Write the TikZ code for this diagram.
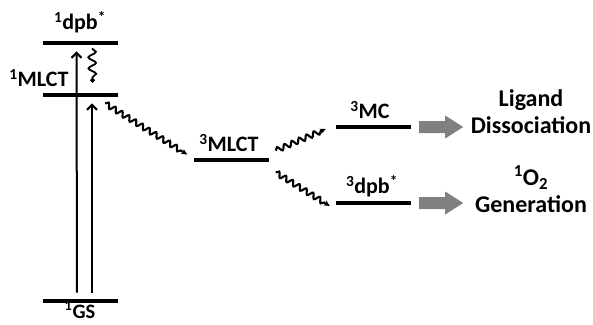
\documentclass[tikz,border=0pt]{standalone}
\usepackage{fontspec}
\setmainfont{Carlito}
\usetikzlibrary{decorations.pathmorphing,arrows.meta,calc}
\begin{document}
\begin{tikzpicture}[x=1pt,y=-1pt,
  level/.style={fill=black,inner sep=0pt,minimum width=75pt,minimum height=4.5pt},
  lbl/.style={font=\bfseries\fontsize{22}{24}\selectfont,inner sep=0pt},
  txt/.style={font=\bfseries\fontsize{24}{26}\selectfont,align=center,inner sep=0pt},
  absarrow/.style={line width=2pt,-{Straight Barb[length=5pt,width=10pt,line width=2pt]}},
  wavy/.style={line width=2.1pt,decorate,decoration={snake,amplitude=2.6pt,segment length=8pt,post length=4pt},
    -{Stealth[length=6pt,width=5.5pt]}},
  vwavy/.style={line width=1.8pt,decorate,decoration={snake,amplitude=3.8pt,segment length=11pt,post length=3pt},
    -{Circle[length=4.5pt]}},
  bigarrow/.style={fill=black!50}]
\useasboundingbox (0,0) rectangle (593,324);
% levels
\node[level] (dpb1) at (80,43) {};
\node[level] (mlct1) at (80.5,95) {};
\node[level] (gs) at (80.5,301) {};
\node[level] (mlct3) at (231,160) {};
\node[level] (mc3) at (373.5,127) {};
\node[level] (dpb3) at (373.5,203) {};
% labels
\node[lbl] (ldpb1) at (80,22) {\textsuperscript{1}dpb\textsuperscript{*}};
\node[lbl] (lmlct1) at (39,78) {\textsuperscript{1}MLCT};
\node[lbl,anchor=base,font=\bfseries\fontsize{20.5}{22}\selectfont] (lgs) at (80,318) {\textsuperscript{1}GS};
\node[lbl] (lmlct3) at (229,143) {\textsuperscript{3}MLCT};
\node[lbl] (lmc3) at (370,110) {\textsuperscript{3}MC};
\node[lbl] (ldpb3) at (372,186) {\textsuperscript{3}dpb\textsuperscript{*}};
% absorption arrows
\draw[absarrow] ([xshift=-3.5pt,yshift=6pt]gs.north) -- ([xshift=-3.5pt,yshift=-6pt]dpb1.south);
\draw[absarrow] ([xshift=11.5pt,yshift=6pt]gs.north) -- ([xshift=11.5pt,yshift=-6pt]mlct1.south);
% wavy arrows
\draw[vwavy] ([xshift=12pt,yshift=-3pt]dpb1.south) -- ([xshift=12pt,yshift=10pt]mlct1.north);
\draw[wavy] ([xshift=-13pt,yshift=-6pt]mlct1.south east) -- ([xshift=-6pt,yshift=3pt]mlct3.north west);
\draw[wavy] ([xshift=7pt,yshift=7pt]mlct3.north east) -- ([xshift=-10pt,yshift=-2pt]mc3.west);
\draw[wavy] ([xshift=7pt,yshift=-10pt]mlct3.south east) -- ([xshift=-6pt,yshift=-3pt]dpb3.west);
% grey arrows
\fill[bigarrow] ([xshift=8pt]mc3.east) ++(0,-6) -- ++(26,0) -- ++(0,-5.5) -- ++(18,11.5) -- ++(-18,11.5) -- ++(0,-5.5) -- ++(-26,0) -- cycle;
\fill[bigarrow] ([xshift=8pt]dpb3.east) ++(0,-6) -- ++(26,0) -- ++(0,-5.5) -- ++(18,11.5) -- ++(-18,11.5) -- ++(0,-5.5) -- ++(-26,0) -- cycle;
% outcome texts
\node[txt] (lig) at (531,112) {Ligand\\[1pt]Dissociation};
\node[txt] (gen) at (531,189) {\textsuperscript{1}O\textsubscript{2}\\[1pt]Generation};
\end{tikzpicture}
\end{document}
